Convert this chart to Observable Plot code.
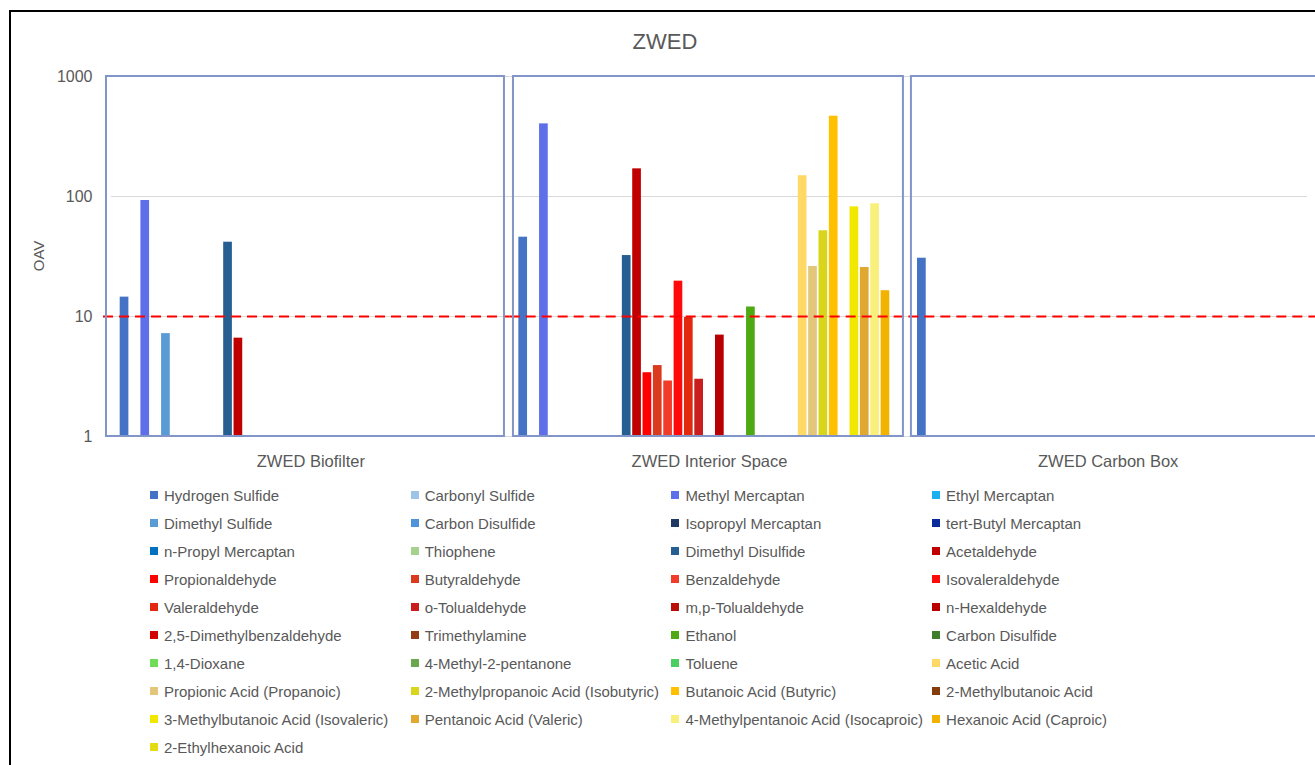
<!DOCTYPE html>
<html>
<head>
<meta charset="utf-8">
<script src="https://cdn.jsdelivr.net/npm/d3@7"></script>
<script src="https://cdn.jsdelivr.net/npm/@observablehq/plot@0.6"></script>
<style>
  html, body { margin: 0; padding: 0; background: #fff; overflow: hidden; width: 1315px; height: 765px; }
  #frame { position: absolute; left: 9px; top: 10px; width: 1400px; height: 800px; border: 2px solid #000; box-sizing: border-box; }
  #title { position: absolute; left: 0; top: 31px; width: 1330px; text-align: center; font: 22px/22px "Liberation Sans", Arial, sans-serif; color: #595959; }
  #ylabel { position: absolute; left: 38px; top: 256px; transform: translate(-50%, -50%) rotate(-90deg); font: 15px/15px "Liberation Sans", Arial, sans-serif; color: #595959; white-space: nowrap; }
  #chart { position: absolute; left: 0; top: 60px; width: 1330px; }
  #chart svg { max-width: none !important; }
  #legend { position: absolute; left: 150px; top: 481px; display: grid; grid-template-columns: repeat(4, 260.7px); grid-auto-rows: 28px; font: 15px "Liberation Sans", Arial, sans-serif; color: #595959; }
  .item { display: flex; align-items: center; white-space: nowrap; }
  .sw { width: 8px; height: 8px; margin-right: 6px; flex: none; }
</style>
</head>
<body>
<div id="frame"></div>
<div id="title">ZWED</div>
<div id="ylabel">OAV</div>
<div id="chart"></div>
<div id="legend"></div>
<script>
const categories = ["ZWED Biofilter", "ZWED Interior Space", "ZWED Carbon Box"];

const compounds = [
  "Hydrogen Sulfide", "Carbonyl Sulfide", "Methyl Mercaptan", "Ethyl Mercaptan",
  "Dimethyl Sulfide", "Carbon Disulfide", "Isopropyl Mercaptan", "tert-Butyl Mercaptan",
  "n-Propyl Mercaptan", "Thiophene", "Dimethyl Disulfide", "Acetaldehyde",
  "Propionaldehyde", "Butyraldehyde", "Benzaldehyde", "Isovaleraldehyde",
  "Valeraldehyde", "o-Tolualdehyde", "m,p-Tolualdehyde", "n-Hexaldehyde",
  "2,5-Dimethylbenzaldehyde", "Trimethylamine", "Ethanol", "Carbon Disulfide",
  "1,4-Dioxane", "4-Methyl-2-pentanone", "Toluene", "Acetic Acid",
  "Propionic Acid (Propanoic)", "2-Methylpropanoic Acid (Isobutyric)", "Butanoic Acid (Butyric)", "2-Methylbutanoic Acid",
  "3-Methylbutanoic Acid (Isovaleric)", "Pentanoic Acid (Valeric)", "4-Methylpentanoic Acid (Isocaproic)", "Hexanoic Acid (Caproic)",
  "2-Ethylhexanoic Acid"
];

const colors = [
  "#4472C4", "#9DC3E6", "#5E6FEA", "#1AAFEF",
  "#5B9BD5", "#4D94D8", "#203864", "#0A2A9C",
  "#0070C0", "#A9D18E", "#255E91", "#C00000",
  "#FF0000", "#DA3A1E", "#F03C28", "#FF0A0A",
  "#E2280E", "#C81E1E", "#B81008", "#B80000",
  "#D40000", "#943C14", "#4EAA12", "#3F7D2A",
  "#6FDC5A", "#6AA84F", "#4CCF60", "#FFD966",
  "#E2C77A", "#D9D51A", "#FFC000", "#843C0C",
  "#F0E800", "#E0A82E", "#F8F07A", "#F2B200",
  "#E2DC10"
];

// OAV values per compound (null = not shown)
const biofilter = [
  14.5, null, 92.6, null,
  7.2, null, null, null,
  null, null, 41.6, 6.6,
  null, null, null, null,
  null, null, null, null,
  null, null, null, null,
  null, null, null, null,
  null, null, null, null,
  null, null, null, null,
  null
];
const interiorSpace = [
  45.8, null, 403, null,
  null, null, null, null,
  null, null, 32.2, 170,
  3.4, 3.9, 2.9, 19.7,
  9.8, 3.0, null, 7.0,
  null, null, 12.0, null,
  null, null, null, 149,
  26.1, 51.8, 467, null,
  82, 25.6, 86.9, 16.4,
  null
];
const carbonBox = [
  30.6, null, null, null,
  null, null, null, null,
  null, null, null, null,
  null, null, null, null,
  null, null, null, null,
  null, null, null, null,
  null, null, null, null,
  null, null, null, null,
  null, null, null, null,
  null
];

const yTicks = [1, 10, 100, 1000];
const threshold = 10;

const series = [biofilter, interiorSpace, carbonBox];
const rows = [];
categories.forEach((cat, c) => {
  series[c].forEach((v, i) => {
    if (v != null) rows.push({cat, idx: i, value: v});
  });
});

const boxStroke = "#8195C8";
const chart = Plot.plot({
  width: 1330,
  height: 416,
  marginLeft: 111,
  marginRight: 23,
  marginTop: 16,
  marginBottom: 40,
  style: {background: "transparent", fontFamily: "'Liberation Sans', Arial, sans-serif", color: "#595959", maxWidth: "none"},
  fx: {domain: categories, padding: 0, round: false},
  x: {domain: d3.range(compounds.length), paddingInner: 0.16, paddingOuter: 0.84, round: false, axis: null},
  y: {type: "log", domain: [1, 1000]},
  color: {type: "ordinal", domain: d3.range(compounds.length), range: colors},
  marks: [
    Plot.gridY(yTicks, {stroke: "#D9D9D9", strokeOpacity: 1, strokeWidth: 1.2}),
    Plot.barY(rows, {fx: "cat", x: "idx", y1: 1, y2: "value", fill: "idx"}),
    Plot.ruleY([{cat: categories[0], v: threshold}], {fx: "cat", y: "v", stroke: "#FF0000", strokeWidth: 2, strokeDasharray: "10,6", insetLeft: -8}),
    Plot.ruleY([{cat: categories[1], v: threshold}], {fx: "cat", y: "v", stroke: "#FF0000", strokeWidth: 2, strokeDasharray: "10,6"}),
    Plot.ruleY([{cat: categories[2], v: threshold}], {fx: "cat", y: "v", stroke: "#FF0000", strokeWidth: 2, strokeDasharray: "10,6", insetRight: -20}),
    Plot.rect([categories[0]], {fx: d => d, y1: 1, y2: 1000, fill: "none", stroke: boxStroke, strokeWidth: 2, insetLeft: -5, insetRight: 5.7}),
    Plot.rect([categories[1]], {fx: d => d, y1: 1, y2: 1000, fill: "none", stroke: boxStroke, strokeWidth: 2, insetLeft: 3.3, insetRight: 5.4}),
    Plot.rect([categories[2]], {fx: d => d, y1: 1, y2: 1000, fill: "none", stroke: boxStroke, strokeWidth: 2, insetLeft: 2.6, insetRight: -20}),
    Plot.axisY({ticks: yTicks, tickFormat: d => String(d), tickSize: 0, tickPadding: 19, label: null, fontSize: 16}),
    Plot.axisFx({anchor: "bottom", tickSize: 0, tickPadding: 19, label: null, fontSize: 16.5})
  ]
});
document.getElementById("chart").appendChild(chart);

const legend = document.getElementById("legend");
compounds.forEach((name, i) => {
  const item = document.createElement("div");
  item.className = "item";
  const sw = document.createElement("span");
  sw.className = "sw";
  sw.style.background = colors[i];
  const label = document.createElement("span");
  label.textContent = name;
  item.appendChild(sw);
  item.appendChild(label);
  legend.appendChild(item);
});
</script>
</body>
</html>
